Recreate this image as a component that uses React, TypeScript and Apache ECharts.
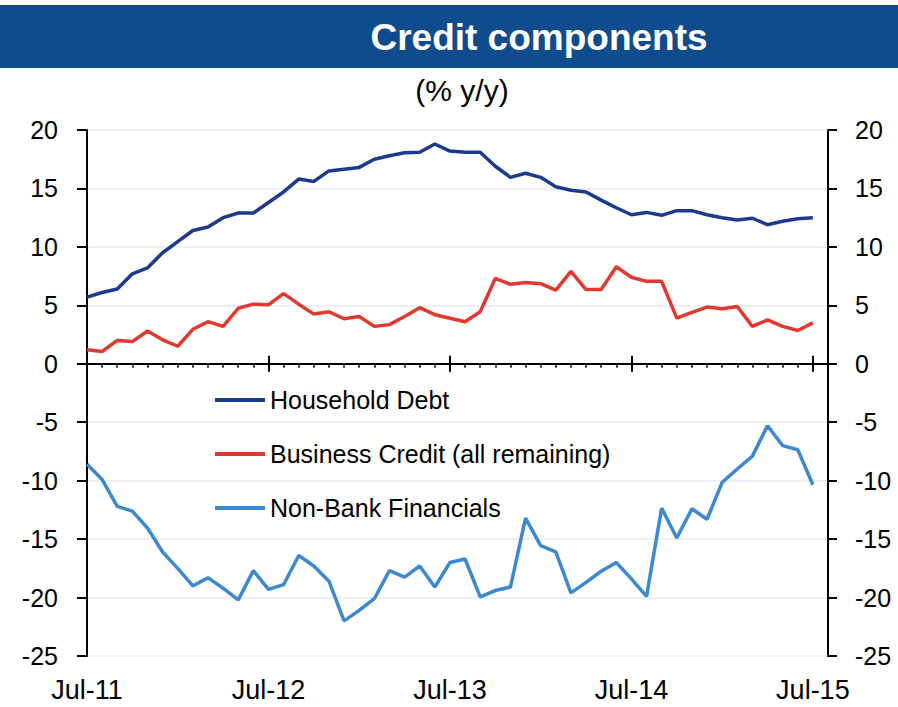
import React, { useEffect, useRef } from "react";
import * as echarts from "echarts";

const months = [
  "Jul-11", "Aug-11", "Sep-11", "Oct-11", "Nov-11", "Dec-11",
  "Jan-12", "Feb-12", "Mar-12", "Apr-12", "May-12", "Jun-12",
  "Jul-12", "Aug-12", "Sep-12", "Oct-12", "Nov-12", "Dec-12",
  "Jan-13", "Feb-13", "Mar-13", "Apr-13", "May-13", "Jun-13",
  "Jul-13", "Aug-13", "Sep-13", "Oct-13", "Nov-13", "Dec-13",
  "Jan-14", "Feb-14", "Mar-14", "Apr-14", "May-14", "Jun-14",
  "Jul-14", "Aug-14", "Sep-14", "Oct-14", "Nov-14", "Dec-14",
  "Jan-15", "Feb-15", "Mar-15", "Apr-15", "May-15", "Jun-15",
  "Jul-15", "Aug-15",
];

const householdDebt = [
  5.7, 6.1, 6.4, 7.7, 8.2, 9.5, 10.45, 11.4, 11.7, 12.5, 12.9, 12.9,
  13.8, 14.7, 15.8, 15.6, 16.5, 16.65, 16.8, 17.5, 17.8, 18.05, 18.1, 18.8,
  18.2, 18.1, 18.1, 16.9, 15.95, 16.3, 15.95, 15.15, 14.85, 14.7, 14.0, 13.35,
  12.75, 12.95, 12.7, 13.1, 13.1, 12.75, 12.5, 12.3, 12.45, 11.9, 12.2, 12.4,
  12.5,
];

const businessCredit = [
  1.2, 1.05, 2.0, 1.9, 2.8, 2.05, 1.5, 2.95, 3.6, 3.2, 4.75, 5.1,
  5.05, 6.0, 5.1, 4.25, 4.45, 3.85, 4.05, 3.2, 3.35, 4.05, 4.8, 4.2,
  3.9, 3.6, 4.45, 7.3, 6.8, 6.95, 6.85, 6.3, 7.9, 6.35, 6.35, 8.3,
  7.4, 7.05, 7.05, 3.9, 4.4, 4.85, 4.7, 4.9, 3.2, 3.75, 3.2, 2.85,
  3.5,
];

const nonBankFinancials = [
  -8.6, -9.9, -12.2, -12.6, -14.05, -16.1, -17.5, -19.0, -18.3, -19.2, -20.2, -17.7,
  -19.3, -18.9, -16.4, -17.3, -18.6, -22.0, -21.1, -20.1, -17.7, -18.25, -17.3, -19.1,
  -17.0, -16.7, -19.95, -19.4, -19.1, -13.2, -15.55, -16.1, -19.6, -18.7, -17.75, -17.0,
  -18.4, -19.9, -12.35, -14.9, -12.4, -13.3, -10.15, -9.0, -7.9, -5.3, -7.0, -7.35,
  -10.35,
];

const seriesNames = ["Household Debt", "Business Credit (all remaining)", "Non-Bank Financials"];
const seriesColors = ["#1d3b8c", "#e03a2e", "#3c89d2"];

const FONT = "Liberation Sans, Arial, sans-serif";

export default function App() {
  const ref = useRef<HTMLDivElement>(null);

  useEffect(() => {
    document.body.style.margin = "0";
    if (!ref.current) return;
    const chart = echarts.init(ref.current, undefined, { renderer: "svg" });

    const isMajor = (idx: number) => idx % 12 === 0;
    const baseX = {
      type: "category",
      data: months,
      boundaryGap: false,
      gridIndex: 0,
      axisLabel: { show: false },
      splitLine: { show: false },
    };

    chart.setOption({
      animation: false,
      backgroundColor: "#ffffff",
      textStyle: { fontFamily: FONT },
      graphic: [
        {
          type: "rect",
          shape: { x: 0, y: 5, width: 898, height: 63 },
          style: { fill: "#0f4c8e" },
          silent: true,
        },
        {
          type: "text",
          x: 539,
          y: 37,
          style: {
            text: "Credit components",
            fill: "#ffffff",
            font: `bold 37px ${FONT}`,
            textAlign: "center",
            textVerticalAlign: "middle",
          },
        },
        {
          type: "text",
          x: 462,
          y: 90,
          style: {
            text: "(% y/y)",
            fill: "#000000",
            font: `30px ${FONT}`,
            textAlign: "center",
            textVerticalAlign: "middle",
          },
        },
      ],
      legend: {
        orient: "vertical",
        left: 210,
        top: 382,
        itemWidth: 50,
        itemHeight: 4,
        itemGap: 28,
        icon: "rect",
        data: seriesNames,
        textStyle: { fontSize: 25, color: "#000", fontFamily: FONT, lineHeight: 26 },
      },
      grid: { left: 87, right: 70, top: 130, bottom: 51, containLabel: false },
      xAxis: [
        {
          ...baseX,
          axisLine: { show: true, onZero: true, onZeroAxisIndex: 0, lineStyle: { color: "#000", width: 2 } },
          axisTick: { show: true, interval: 0, length: 4, inside: false, lineStyle: { color: "#000", width: 1.5 } },
        },
        {
          ...baseX,
          axisLine: { show: true, onZero: true, onZeroAxisIndex: 0, lineStyle: { color: "#000", width: 2 } },
          axisTick: { show: true, interval: isMajor, length: 8, inside: true, lineStyle: { color: "#000", width: 2 } },
        },
        {
          ...baseX,
          axisLine: { show: true, onZero: true, onZeroAxisIndex: 0, lineStyle: { color: "#000", width: 2 } },
          axisTick: { show: true, interval: isMajor, length: 8, inside: false, lineStyle: { color: "#000", width: 2 } },
        },
        {
          type: "category",
          data: months,
          boundaryGap: false,
          position: "bottom",
          axisLine: { show: false, onZero: false },
          axisTick: { show: false },
          splitLine: { show: false },
          axisLabel: {
            show: true,
            interval: isMajor,
            fontSize: 27,
            color: "#000",
            margin: 20,
            fontFamily: FONT,
          },
        },
      ],
      yAxis: [
        {
          type: "value",
          position: "left",
          min: -25,
          max: 20,
          interval: 5,
          axisLine: { show: true, lineStyle: { color: "#000", width: 2 } },
          axisTick: { show: true, length: 10, lineStyle: { color: "#000", width: 2 } },
          axisLabel: { fontSize: 25, color: "#000", margin: 29, fontFamily: FONT },
          splitLine: { show: true, lineStyle: { color: "#e6edf5", width: 1.5 } },
        },
        {
          type: "value",
          position: "right",
          min: -25,
          max: 20,
          interval: 5,
          axisLine: { show: true, lineStyle: { color: "#000", width: 2 } },
          axisTick: { show: true, length: 9, lineStyle: { color: "#000", width: 2 } },
          axisLabel: { fontSize: 25, color: "#000", margin: 27, fontFamily: FONT },
          splitLine: { show: false },
        },
      ],
      series: [
        {
          name: seriesNames[0],
          type: "line",
          data: householdDebt,
          xAxisIndex: 0,
          yAxisIndex: 0,
          symbol: "none",
          color: seriesColors[0],
          lineStyle: { color: seriesColors[0], width: 3.5 },
          z: 5,
        },
        {
          name: seriesNames[1],
          type: "line",
          data: businessCredit,
          xAxisIndex: 0,
          yAxisIndex: 0,
          symbol: "none",
          color: seriesColors[1],
          lineStyle: { color: seriesColors[1], width: 3.5 },
          z: 5,
        },
        {
          name: seriesNames[2],
          type: "line",
          data: nonBankFinancials,
          xAxisIndex: 0,
          yAxisIndex: 0,
          symbol: "none",
          color: seriesColors[2],
          lineStyle: { color: seriesColors[2], width: 3.5 },
          z: 5,
        },
      ],
    });

    return () => chart.dispose();
  }, []);

  return <div ref={ref} style={{ width: 898, height: 707 }} />;
}
